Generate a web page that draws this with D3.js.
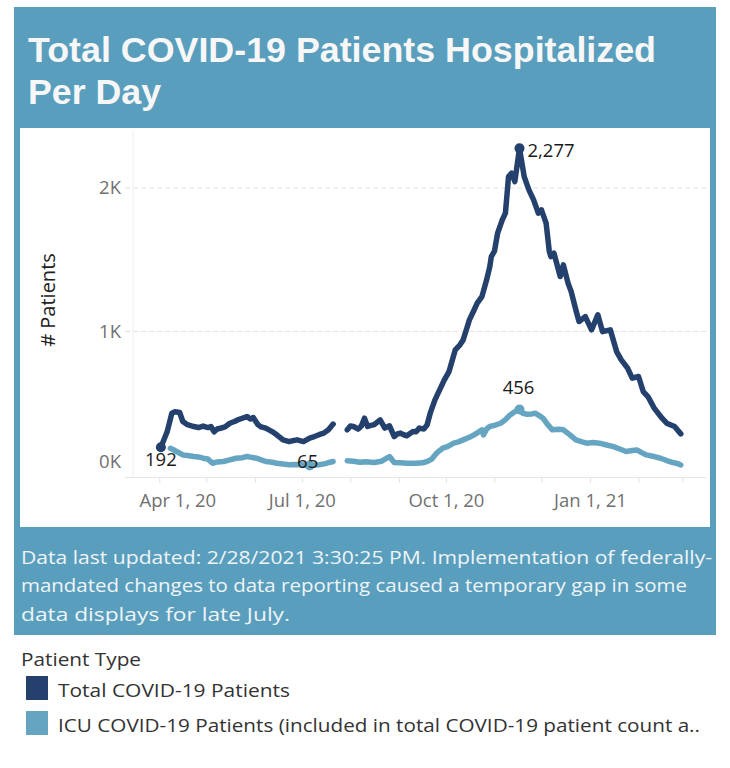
<!DOCTYPE html>
<html><head><meta charset="utf-8">
<script src="https://cdn.jsdelivr.net/npm/d3@7"></script>
<style>body{margin:0;background:#fff}</style></head>
<body><svg id="c" width="730" height="768"></svg>
<script>
// ---------- DATA ----------
const titleLines = ["Total COVID-19 Patients Hospitalized", "Per Day"];
const footnoteLines = [
  "Data last updated: 2/28/2021 3:30:25 PM. Implementation of federally-",
  "mandated changes to data reporting caused a temporary gap in some",
  "data displays for late July."
];
const legendTitle = "Patient Type";
const seriesNames = ["Total COVID-19 Patients", "ICU COVID-19 Patients (included in total COVID-19 patient count a.."];
const yAxisTitle = "# Patients";
const yTickValues = [0, 1000, 2000];
const xTickMonths = ["2020-04-01","2020-05-01","2020-06-01","2020-07-01","2020-08-01","2020-09-01","2020-10-01","2020-11-01","2020-12-01","2021-01-01","2021-02-01","2021-03-01"];
const xLabelMonths = ["2020-04-01","2020-07-01","2020-10-01","2021-01-01"];

// null = reporting gap (late July)
const totalSeries = [
 ["2020-04-02",192],["2020-04-06",300],["2020-04-09",430],["2020-04-11",440],["2020-04-14",435],["2020-04-16",372],
 ["2020-04-19",350],["2020-04-23",337],["2020-04-26",330],["2020-04-29",340],["2020-05-02",330],["2020-05-04",337],
 ["2020-05-06",300],["2020-05-08",320],["2020-05-10",325],["2020-05-13",335],["2020-05-16",360],["2020-05-19",372],
 ["2020-05-21",383],["2020-05-24",395],["2020-05-27",407],["2020-05-29",390],["2020-05-31",400],["2020-06-03",349],
 ["2020-06-05",335],["2020-06-08",326],["2020-06-12",302],["2020-06-15",279],["2020-06-19",244],["2020-06-23",232],
 ["2020-06-26",240],["2020-06-28",244],["2020-07-02",232],["2020-07-06",256],["2020-07-09",267],["2020-07-12",280],
 ["2020-07-15",291],["2020-07-18",315],["2020-07-21",354],
 ["2020-07-25",null],
 ["2020-07-30",314],["2020-08-01",340],["2020-08-03",337],["2020-08-06",319],["2020-08-08",340],["2020-08-10",395],
 ["2020-08-12",337],["2020-08-14",345],["2020-08-16",349],["2020-08-20",383],["2020-08-23",326],["2020-08-26",342],
 ["2020-08-29",267],["2020-08-31",285],["2020-09-02",291],["2020-09-04",280],["2020-09-06",272],["2020-09-10",302],
 ["2020-09-12",300],["2020-09-14",326],["2020-09-17",320],["2020-09-19",349],["2020-09-21",430],["2020-09-24",523],
 ["2020-09-27",593],["2020-09-30",662],["2020-10-03",720],["2020-10-07",872],["2020-10-10",907],["2020-10-12",941],
 ["2020-10-14",1010],["2020-10-16",1081],["2020-10-19",1150],["2020-10-21",1197],["2020-10-24",1243],["2020-10-27",1360],
 ["2020-10-29",1450],["2020-10-30",1522],["2020-11-01",1560],["2020-11-03",1685],["2020-11-06",1778],["2020-11-08",1825],
 ["2020-11-10",2080],["2020-11-12",2104],["2020-11-14",2045],["2020-11-17",2277],["2020-11-20",2080],["2020-11-23",1987],
 ["2020-11-26",1918],["2020-11-29",1825],["2020-12-01",1848],["2020-12-04",1755],["2020-12-06",1560],["2020-12-07",1522],
 ["2020-12-09",1546],["2020-12-13",1383],["2020-12-15",1464],["2020-12-18",1337],["2020-12-20",1278],["2020-12-23",1150],
 ["2020-12-25",1069],["2020-12-29",1104],["2021-01-02",1011],["2021-01-06",1116],["2021-01-09",999],["2021-01-14",1011],
 ["2021-01-18",860],["2021-01-21",802],["2021-01-25",744],["2021-01-28",674],["2021-02-01",686],["2021-02-04",581],
 ["2021-02-07",546],["2021-02-11",465],["2021-02-16",395],["2021-02-19",360],["2021-02-24",337],["2021-02-28",286]
];
const icuSeries = [
 ["2020-04-08",185],["2020-04-10",175],["2020-04-12",163],["2020-04-16",139],["2020-04-19",135],["2020-04-23",128],
 ["2020-04-26",125],["2020-04-29",116],["2020-05-02",110],["2020-05-05",81],["2020-05-08",90],["2020-05-12",93],
 ["2020-05-16",105],["2020-05-20",116],["2020-05-24",120],["2020-05-27",128],["2020-05-30",122],["2020-06-02",116],
 ["2020-06-05",105],["2020-06-08",93],["2020-06-12",88],["2020-06-15",81],["2020-06-19",75],["2020-06-23",70],
 ["2020-06-27",72],["2020-06-30",70],["2020-07-03",68],["2020-07-06",65],["2020-07-09",68],["2020-07-12",70],
 ["2020-07-16",78],["2020-07-19",88],["2020-07-21",93],
 ["2020-07-25",null],
 ["2020-07-30",98],["2020-08-03",95],["2020-08-07",88],["2020-08-11",92],["2020-08-16",86],["2020-08-21",95],
 ["2020-08-26",128],["2020-08-29",86],["2020-09-02",84],["2020-09-06",81],["2020-09-12",81],["2020-09-16",84],
 ["2020-09-19",93],["2020-09-22",110],["2020-09-25",151],["2020-09-29",186],["2020-10-02",197],["2020-10-06",221],
 ["2020-10-09",230],["2020-10-12",244],["2020-10-16",262],["2020-10-19",279],["2020-10-22",300],["2020-10-24",314],
 ["2020-10-25",279],["2020-10-27",320],["2020-10-29",337],["2020-11-01",345],["2020-11-05",360],["2020-11-08",385],
 ["2020-11-11",418],["2020-11-14",440],["2020-11-17",456],["2020-11-19",430],["2020-11-22",423],["2020-11-25",425],
 ["2020-11-27",430],["2020-11-30",410],["2020-12-02",395],["2020-12-05",350],["2020-12-08",314],["2020-12-12",318],
 ["2020-12-15",314],["2020-12-19",280],["2020-12-23",244],["2020-12-27",230],["2020-12-30",221],["2021-01-03",225],
 ["2021-01-07",221],["2021-01-11",210],["2021-01-16",197],["2021-01-20",180],["2021-01-24",163],["2021-01-28",170],
 ["2021-01-31",174],["2021-02-03",155],["2021-02-06",139],["2021-02-10",130],["2021-02-15",116],["2021-02-19",100],
 ["2021-02-23",86],["2021-02-26",78],["2021-02-28",69]
];

// ---------- STYLE ----------
const teal = "#5a9ebd";
const colTotal = "#23416c";
const colIcu = "#66a5c1";
const parse = d3.timeParse("%Y-%m-%d");
const toPts = s => s.map(([d, v]) => ({date: parse(d), v}));
const total = toPts(totalSeries), icu = toPts(icuSeries);

const svg = d3.select("#c");
svg.append("rect").attr("x",0).attr("y",0).attr("width",730).attr("height",768).attr("fill","#fff");
svg.append("rect").attr("x",14).attr("y",7).attr("width",702).attr("height",628).attr("fill",teal);
svg.append("rect").attr("x",20).attr("y",128).attr("width",690).attr("height",399).attr("fill","#fff");

// Title
const titleFont = "'Liberation Sans', Arial, sans-serif";
[[titleLines[0], 62, 628], [titleLines[1], 104, 133]].forEach(([t, y, w]) => {
  svg.append("text").attr("x",28).attr("y",y).text(t)
    .attr("font-family",titleFont).attr("font-weight","bold").attr("font-size",35)
    .attr("fill","#f7f7f7").attr("textLength",w).attr("lengthAdjust","spacingAndGlyphs");
});

// Scales
const x = d3.scaleTime().domain([parse("2020-03-15"), parse("2021-03-15")]).range([132.7, 704.3]);
const y = d3.scaleLinear().domain([-15, 2405]).range([477, 130]);
const bodyFont = "'Open Sans', 'Noto Sans', sans-serif";

// Grid
const g = svg.append("g");
g.selectAll("line.grid").data(yTickValues.filter(v => v > 0)).join("line")
  .attr("x1",125).attr("x2",706).attr("y1",d=>y(d)).attr("y2",d=>y(d))
  .attr("stroke","#e2e2e2").attr("stroke-width",1).attr("stroke-dasharray","5,3");
g.append("line").attr("x1",133).attr("x2",133).attr("y1",130).attr("y2",477).attr("stroke","#efefef");

// X axis
const xAxis = d3.axisBottom(x).tickValues(xTickMonths.map(parse)).tickSize(6)
  .tickFormat(d => xLabelMonths.includes(d3.timeFormat("%Y-%m-%d")(d)) ? d3.timeFormat("%b %-d, %y")(d) : "");
const xg = svg.append("g").attr("transform","translate(0,477)").call(xAxis);
xg.select(".domain").attr("d","M125,0.5H706").attr("stroke","#e4e4e4");
xg.selectAll(".tick line").attr("stroke","#e4e4e4");
xg.selectAll(".tick text").attr("font-family",bodyFont).attr("font-size",18.5).attr("fill","#707070").attr("dy","1.12em");
xg.selectAll(".tick text").filter((d,i)=>i===0).attr("dx",18);

// Y axis
const yAxis = d3.axisLeft(y).tickValues(yTickValues).tickSize(0).tickFormat(d => (d/1000) + "K");
const yg = svg.append("g").attr("transform","translate(121,0)").call(yAxis);
yg.select(".domain").remove();
yg.selectAll(".tick text").attr("font-family",bodyFont).attr("font-size",18.5).attr("fill","#707070").attr("x",0);
yg.selectAll(".tick text").filter(d => d === 0).attr("dy","-0.38em");

svg.append("text").attr("transform","translate(55,300) rotate(-90)").attr("text-anchor","middle")
  .attr("font-family",bodyFont).attr("font-size",20).attr("fill","#222").text(yAxisTitle);

// Lines
const line = d3.line().defined(d => d.v != null).x(d => x(d.date)).y(d => y(d.v));
svg.append("path").datum(icu).attr("d",line).attr("fill","none").attr("stroke",colIcu)
  .attr("stroke-width",5.5).attr("stroke-linejoin","round").attr("stroke-linecap","round");
svg.append("path").datum(total).attr("d",line).attr("fill","none").attr("stroke",colTotal)
  .attr("stroke-width",5.5).attr("stroke-linejoin","round").attr("stroke-linecap","round");

// Marks & labels
const valid = a => a.filter(d => d.v != null);
const tStart = valid(total)[0];
const tMax = d3.greatest(valid(total), d => d.v);
const iMax = d3.greatest(valid(icu), d => d.v);
const iMin = d3.least(valid(icu), d => d.v);
const fmt = d3.format(",");
const marks = [
  {p:tStart, c:colTotal, dx:0, dy:12, anchor:"middle"},
  {p:tMax, c:colTotal, dx:8, dy:2, anchor:"start"},
  {p:iMax, c:colIcu, dx:-1, dy:-22, anchor:"middle"},
  {p:iMin, c:colIcu, dx:-2, dy:-4, anchor:"middle"}
];
marks.forEach(m => {
  svg.append("circle").attr("cx",x(m.p.date)).attr("cy",y(m.p.v)).attr("r",5).attr("fill",m.c);
  svg.append("text").attr("x",x(m.p.date)+m.dx).attr("y",y(m.p.v)+m.dy).attr("dy","0.35em")
    .attr("text-anchor",m.anchor).attr("font-family",bodyFont).attr("font-size",18.5).attr("fill","#1a1a1a")
    .text(fmt(m.p.v));
});

// Footnote
[[footnoteLines[0],564,691],[footnoteLines[1],592,666],[footnoteLines[2],621,269]].forEach(([t,yy,w]) => {
  svg.append("text").attr("x",21).attr("y",yy).text(t).attr("font-family",bodyFont).attr("font-size",19)
    .attr("fill","#eef4f7").attr("textLength",w).attr("lengthAdjust","spacingAndGlyphs");
});

// Legend
svg.append("text").attr("x",21).attr("y",666).text(legendTitle).attr("font-family",bodyFont)
  .attr("font-size",18).attr("fill","#333").attr("textLength",120).attr("lengthAdjust","spacingAndGlyphs");
const legW = [232, 642];
[colTotal, colIcu].forEach((c,i) => {
  const yy = 676 + i*35;
  svg.append("rect").attr("x",26).attr("y",yy).attr("width",22).attr("height",24).attr("fill",c);
  svg.append("text").attr("x",58).attr("y",yy+21).text(seriesNames[i]).attr("font-family",bodyFont)
    .attr("font-size",19).attr("fill","#333").attr("textLength",legW[i]).attr("lengthAdjust","spacingAndGlyphs");
});
</script></body></html>
